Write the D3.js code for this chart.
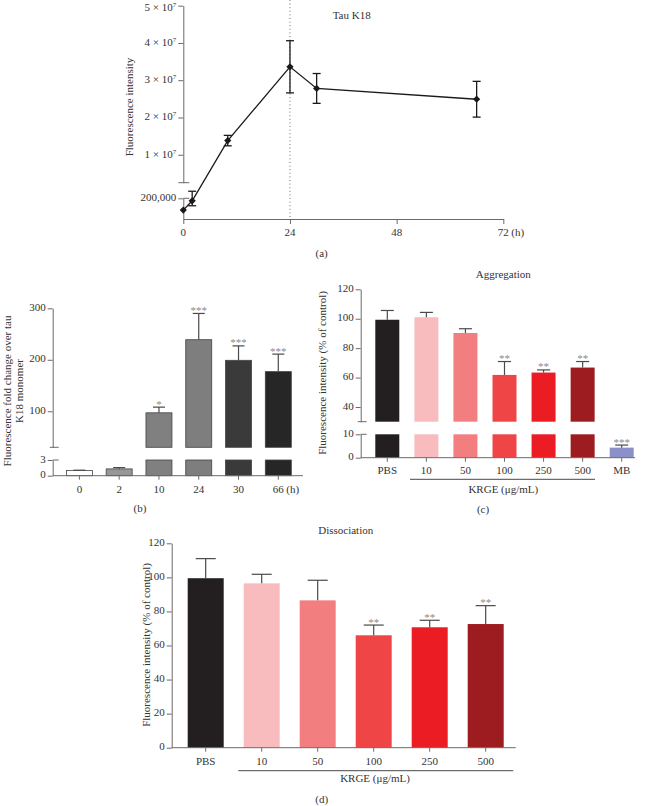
<!DOCTYPE html>
<html>
<head>
<meta charset="utf-8">
<script src="https://cdn.jsdelivr.net/npm/d3@7"></script>
<style>
  html, body { margin: 0; padding: 0; background: #fff; }
  svg { display: block; }
  text { font-family: 'Liberation Serif', 'Times New Roman', serif; fill: #333; }
</style>
</head>
<body>
<svg id="fig" width="649" height="806"></svg>
<script>
// ---------------- DATA ----------------
// Panel (a): Tau K18 time course
const aHours = [0, 2, 10, 24, 30, 66];
const aMean  = [143000, 188000, 1.38e7, 3.36e7, 2.78e7, 2.49e7];
const aErr   = [0, 24000, 0.14e7, 0.70e7, 0.40e7, 0.48e7];
const aYTicksHigh = [1e7, 2e7, 3e7, 4e7, 5e7];
const aYTickMant  = ['1', '2', '3', '4', '5'];
const aYTicksLow  = [200000];
const aXTicks = [0, 24, 48, 72];

// Panel (b): fold change
const bCats  = ['0', '2', '10', '24', '30', '66'];
const bMean  = [1.0, 1.3, 97, 239, 199, 177];
const bErr   = [0.05, 0.25, 11, 51, 28, 34];
const bStars = ['', '', '*', '***', '***', '***'];
const bYTicksHigh = [100, 200, 300];
const bYTicksLow  = [0, 3];

// Panel (c): Aggregation
const cCats  = ['PBS', '10', '50', '100', '250', '500', 'MB'];
const cMean  = [99.3, 101.0, 90.3, 61.8, 63.4, 66.8, 4.3];
const cErr   = [6.3, 3.3, 2.9, 9.1, 1.8, 4.1, 1.1];
const cStars = ['', '', '', '**', '**', '**', '***'];
const cYTicksHigh = [40, 60, 80, 100, 120];
const cYTicksLow  = [0, 10];

// Panel (d): Dissociation
const dCats  = ['PBS', '10', '50', '100', '250', '500'];
const dMean  = [99.5, 96.5, 86.5, 66.0, 70.7, 72.6];
const dErr   = [11.5, 5.3, 11.8, 6.0, 4.1, 10.8];
const dStars = ['', '', '', '**', '**', '**'];
const dYTicks = [0, 20, 40, 60, 80, 100, 120];

// ---------------- STYLE ----------------
const axisColor = '#6a6a6a';
const errColor = '#4a4a4a';
const starColor = '#8a8a8a';
const fs = 11;
const bFills = ['#ffffff', '#979797', '#808080', '#7e7e7e', '#3a3a3a', '#262626'];
const kFills = ['#231f20', '#f8bcbe', '#f27e80', '#ef4547', '#ec1c24', '#9d1c20', '#8b90c9'];

const svg = d3.select('#fig');

function line(g, x1, y1, x2, y2, color, w, dash) {
  const l = g.append('line').attr('x1', x1).attr('y1', y1).attr('x2', x2).attr('y2', y2)
    .attr('stroke', color || axisColor).attr('stroke-width', w || 1);
  if (dash) l.attr('stroke-dasharray', dash);
  return l;
}
function txt(g, x, y, s, anchor, size) {
  return g.append('text').attr('x', x).attr('y', y).attr('text-anchor', anchor || 'middle')
    .attr('dominant-baseline', 'middle').style('font-size', (size || fs) + 'px').text(s);
}
function vlabel(g, x, y, s) {
  return g.append('text').attr('transform', `translate(${x},${y}) rotate(-90)`)
    .attr('text-anchor', 'middle').attr('dominant-baseline', 'middle')
    .style('font-size', fs + 'px').text(s);
}
function styleAxis(sel) {
  sel.selectAll('path.domain').attr('stroke', axisColor).attr('stroke-width', 1);
  sel.selectAll('.tick line').attr('stroke', axisColor).attr('stroke-width', 1);
  sel.selectAll('.tick text').style('font-size', fs + 'px')
    .style('font-family', "'Liberation Serif','Times New Roman',serif").attr('fill', '#333');
}

// =============== PANEL (a) ===============
{
  const g = svg.append('g');
  const x = d3.scaleLinear().domain([0, 72]).range([183.3, 503.3]);
  const yHigh = d3.scaleLinear().domain([2.5e6, 5e7]).range([182.7, 5.7]);
  const yLow = d3.scaleLinear().domain([1e5, 2e5]).range([219, 198.3]);
  const y = v => (v > 2e5 ? yHigh(v) : yLow(v));
  const ax = x(0);

  // dotted line at 24 h
  line(g, x(24), 0, x(24), yLow(1e5), '#6f6f6f', 1, '1,2.6');

  // y axis, upper segment
  const yaH = g.append('g').attr('transform', `translate(${ax},0)`)
    .call(d3.axisLeft(yHigh).tickValues(aYTicksHigh).tickSize(5).tickSizeOuter(0).tickFormat(() => ''));
  styleAxis(yaH);
  line(g, ax - 5, yHigh(2.5e6), ax + 6, yHigh(2.5e6));
  aYTicksHigh.forEach((v, i) => {
    const t = g.append('text').attr('x', ax - 7).attr('y', yHigh(v) + (i === 4 ? 1.8 : 0)).attr('text-anchor', 'end')
      .attr('dominant-baseline', 'middle').style('font-size', fs + 'px');
    t.append('tspan').text(aYTickMant[i] + ' \u00d7 10');
    t.append('tspan').attr('dy', -3).style('font-size', '7px').text('7');
  });

  // y axis, lower segment
  const yaL = g.append('g').attr('transform', `translate(${ax},0)`)
    .call(d3.axisLeft(yLow).tickValues(aYTicksLow).tickSize(5).tickSizeOuter(0).tickFormat(() => ''));
  styleAxis(yaL);
  line(g, ax, yLow(2e5), ax + 6, yLow(2e5));
  aYTicksLow.forEach(v => txt(g, ax - 7, yLow(v), d3.format(',')(v), 'end'));

  // x axis
  const xa = g.append('g').attr('transform', `translate(0,${yLow(1e5)})`)
    .call(d3.axisBottom(x).tickValues(aXTicks).tickSize(5).tickSizeOuter(0).tickFormat(() => ''));
  styleAxis(xa);
  aXTicks.forEach(v => txt(g, x(v), yLow(1e5) + 14, String(v)));
  txt(g, x(72) + 8, yLow(1e5) + 14, '(h)', 'start');

  // line
  const pts = aHours.map((h, i) => [x(h), y(aMean[i])]);
  g.append('path').attr('d', d3.line()(pts)).attr('fill', 'none').attr('stroke', '#1a1a1a').attr('stroke-width', 1.3);

  // error bars
  aHours.forEach((h, i) => {
    if (!aErr[i]) return;
    const cx = x(h), y1 = y(aMean[i] + aErr[i]), y2 = y(aMean[i] - aErr[i]);
    line(g, cx, y1, cx, y2, '#1a1a1a', 1.3);
    line(g, cx - 4, y1, cx + 4, y1, '#1a1a1a', 1.3);
    line(g, cx - 4, y2, cx + 4, y2, '#1a1a1a', 1.3);
  });
  // markers
  g.selectAll('path.mk').data(aHours).enter().append('path').attr('class', 'mk')
    .attr('d', d3.symbol(d3.symbolSquare, 26)())
    .attr('transform', (h, i) => `translate(${x(h)},${y(aMean[i])}) rotate(45)`)
    .attr('fill', '#1a1a1a');

  txt(g, 351.7, 16, 'Tau K18');
  vlabel(g, 130, 107, 'Fluorescence intensity');
  txt(g, 321.7, 254, '(a)');
}

// =============== PANEL (b) ===============
{
  const g = svg.append('g');
  const ax = 52.7;
  const x = d3.scalePoint().domain(bCats).range([79.4, 278.3]);
  const yHigh = d3.scaleLinear().domain([30, 300]).range([447.3, 308.3]);
  const yLow = d3.scaleLinear().domain([0, 3]).range([475.7, 460]);
  const bw = 26;

  // bars
  bCats.forEach((c, i) => {
    const v = bMean[i], cx = x(c);
    const lowTop = yLow(Math.min(v, 3));
    g.append('rect').attr('x', cx - bw / 2).attr('y', lowTop).attr('width', bw)
      .attr('height', yLow(0) - lowTop).attr('fill', bFills[i]).attr('stroke', '#444').attr('stroke-width', 0.8);
    if (v > 30) {
      g.append('rect').attr('x', cx - bw / 2).attr('y', yHigh(v)).attr('width', bw)
        .attr('height', yHigh(30) - yHigh(v)).attr('fill', bFills[i]).attr('stroke', '#444').attr('stroke-width', 0.8);
    }
    const yT = v > 30 ? yHigh(v) : yLow(v);
    const yE = v > 30 ? yHigh(v + bErr[i]) : yLow(v + bErr[i]);
    line(g, cx, yT, cx, yE, errColor, 1.2);
    line(g, cx - 6, yE, cx + 6, yE, errColor, 1.2);
    if (bStars[i]) {
      g.append('text').attr('x', cx).attr('y', yE + 0.5).attr('text-anchor', 'middle')
        .style('font-size', fs + 'px').attr('fill', starColor).style('fill', starColor).text(bStars[i]);
    }
  });

  // y axis
  const yaH = g.append('g').attr('transform', `translate(${ax},0)`)
    .call(d3.axisLeft(yHigh).tickValues(bYTicksHigh).tickSize(5).tickSizeOuter(0).tickFormat(() => ''));
  styleAxis(yaH);
  line(g, ax - 3, yHigh(30), ax + 6, yHigh(30));
  const yaL = g.append('g').attr('transform', `translate(${ax},0)`)
    .call(d3.axisLeft(yLow).tickValues(bYTicksLow).tickSize(5).tickSizeOuter(0).tickFormat(() => ''));
  styleAxis(yaL);
  line(g, ax, yLow(3), ax + 6, yLow(3));
  bYTicksHigh.forEach(v => txt(g, ax - 7, yHigh(v), String(v), 'end'));
  bYTicksLow.forEach(v => txt(g, ax - 7, yLow(v), String(v), 'end'));

  // x axis
  line(g, ax, yLow(0), 303, yLow(0));
  bCats.forEach(c => {
    line(g, x(c), yLow(0), x(c), yLow(0) + 4);
    txt(g, x(c), yLow(0) + 15, c);
  });
  txt(g, x('66') + 8, yLow(0) + 15, '(h)', 'start');

  // y label (two lines)
  vlabel(g, 8, 391, 'Fluorescence fold change over tau');
  vlabel(g, 20, 391, 'K18 monomer');
  txt(g, 140, 509, '(b)');
}

// =============== PANEL (c) ===============
{
  const g = svg.append('g');
  const ax = 360.7;
  const x = d3.scalePoint().domain(cCats).range([387.3, 621.7]);
  const yHigh = d3.scaleLinear().domain([30, 120]).range([421.7, 289.3]);
  const yLow = d3.scaleLinear().domain([0, 10]).range([457.7, 434.3]);
  const bw = 24;

  cCats.forEach((c, i) => {
    const v = cMean[i], cx = x(c);
    const lowTop = yLow(Math.min(v, 10));
    g.append('rect').attr('x', cx - bw / 2).attr('y', lowTop).attr('width', bw)
      .attr('height', yLow(0) - lowTop).attr('fill', kFills[i]);
    if (v > 30) {
      g.append('rect').attr('x', cx - bw / 2).attr('y', yHigh(v)).attr('width', bw)
        .attr('height', yHigh(30) - yHigh(v)).attr('fill', kFills[i]);
    }
    const yT = v > 30 ? yHigh(v) : yLow(v);
    const yE = v > 30 ? yHigh(v + cErr[i]) : yLow(v + cErr[i]);
    line(g, cx, yT, cx, yE, errColor, 1.2);
    line(g, cx - 6.5, yE, cx + 6.5, yE, errColor, 1.2);
    if (cStars[i]) {
      g.append('text').attr('x', cx).attr('y', yE + 0.5).attr('text-anchor', 'middle')
        .style('font-size', fs + 'px').style('fill', starColor).text(cStars[i]);
    }
  });

  const yaH = g.append('g').attr('transform', `translate(${ax},0)`)
    .call(d3.axisLeft(yHigh).tickValues(cYTicksHigh).tickSize(5).tickSizeOuter(0).tickFormat(() => ''));
  styleAxis(yaH);
  line(g, ax - 3, yHigh(30), ax + 6, yHigh(30));
  const yaL = g.append('g').attr('transform', `translate(${ax},0)`)
    .call(d3.axisLeft(yLow).tickValues(cYTicksLow).tickSize(5).tickSizeOuter(0).tickFormat(() => ''));
  styleAxis(yaL);
  line(g, ax, yLow(10), ax + 6, yLow(10));
  cYTicksHigh.forEach(v => txt(g, ax - 7, yHigh(v), String(v), 'end'));
  cYTicksLow.forEach(v => txt(g, ax - 7, yLow(v), String(v), 'end'));

  line(g, ax, yLow(0), 635, yLow(0));
  cCats.forEach(c => {
    line(g, x(c), yLow(0), x(c), yLow(0) + 4);
    txt(g, x(c), yLow(0) + 14, c);
  });
  line(g, 410, 479.3, 595, 479.3, '#333', 0.9);
  txt(g, 503.3, 490.5, 'KRGE (\u03bcg/mL)');
  txt(g, 503.3, 275, 'Aggregation');
  vlabel(g, 323.3, 373, 'Fluorescence intensity (% of control)');
  txt(g, 483, 510, '(c)');
}

// =============== PANEL (d) ===============
{
  const g = svg.append('g');
  const ax = 171.7;
  const x = d3.scalePoint().domain(dCats).range([205.7, 485.7]);
  const y = d3.scaleLinear().domain([0, 120]).range([747.7, 543.3]);
  const bw = 36;

  dCats.forEach((c, i) => {
    const v = dMean[i], cx = x(c);
    g.append('rect').attr('x', cx - bw / 2).attr('y', y(v)).attr('width', bw)
      .attr('height', y(0) - y(v)).attr('fill', kFills[i]);
    const yE = y(v + dErr[i]);
    line(g, cx, y(v), cx, yE, errColor, 1.2);
    line(g, cx - 10, yE, cx + 10, yE, errColor, 1.2);
    if (dStars[i]) {
      g.append('text').attr('x', cx).attr('y', yE + 0.5).attr('text-anchor', 'middle')
        .style('font-size', fs + 'px').style('fill', starColor).text(dStars[i]);
    }
  });

  const ya = g.append('g').attr('transform', `translate(${ax},0)`)
    .call(d3.axisLeft(y).tickValues(dYTicks).tickSize(5).tickSizeOuter(0).tickFormat(() => ''));
  styleAxis(ya);
  dYTicks.forEach(v => txt(g, ax - 7, y(v), String(v), 'end'));

  line(g, ax, y(0), 515.7, y(0));
  dCats.forEach(c => {
    line(g, x(c), y(0), x(c), y(0) + 4);
    txt(g, x(c), y(0) + 14.6, c);
  });
  line(g, 238.3, 770.7, 513.3, 770.7, '#333', 0.9);
  txt(g, 375, 779.5, 'KRGE (\u03bcg/mL)');
  txt(g, 345.7, 531.7, 'Dissociation');
  vlabel(g, 147, 645, 'Fluorescence intensity (% of control)');
  txt(g, 321.7, 800, '(d)');
}
</script>
</body>
</html>
